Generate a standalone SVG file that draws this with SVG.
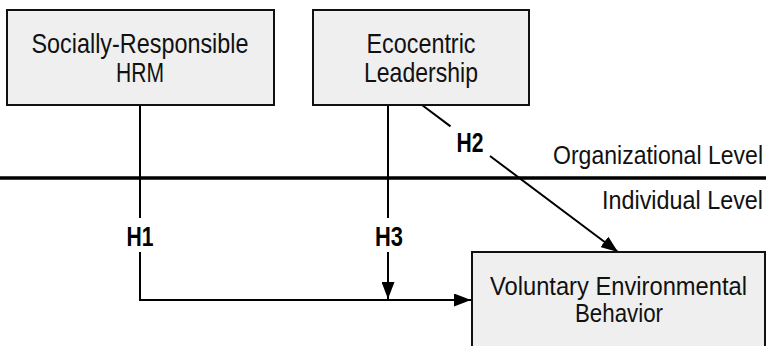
<svg xmlns="http://www.w3.org/2000/svg" width="766" height="346" viewBox="0 0 766 346">
<style>
.box{fill:#efefef;stroke:#111;stroke-width:2}
.t{font-family:"Liberation Sans",Arial,sans-serif;font-size:28px;fill:#111;text-anchor:middle}
.lv{text-anchor:end;font-size:25px}
.vb{font-size:26px}
.h{font-weight:bold;fill:#000;font-size:27px}
.c{stroke:#000;stroke-width:2;fill:none}
</style>
<defs>
<marker id="ah" viewBox="0 0 17 13" refX="17" refY="6.5" markerWidth="17" markerHeight="13" markerUnits="userSpaceOnUse" orient="auto">
<path d="M0,0 L17,6.5 L0,13 z" fill="#000"/>
</marker>
</defs>
<rect width="766" height="346" fill="#fff"/>
<g id="levels">
<line x1="0" y1="178" x2="766" y2="178" stroke="#000" stroke-width="3.5"/>
<text class="t lv" x="763" y="164" textLength="210" lengthAdjust="spacingAndGlyphs">Organizational Level</text>
<text class="t lv" x="763" y="209" textLength="161" lengthAdjust="spacingAndGlyphs">Individual Level</text>
</g>
<g id="connectors">
<line class="c" x1="140" y1="105" x2="140" y2="218"/>
<path class="c" d="M140,252 V300 H471" marker-end="url(#ah)"/>
<line class="c" x1="388" y1="105" x2="388" y2="218"/>
<line class="c" x1="388" y1="252" x2="388" y2="299" marker-end="url(#ah)"/>
<line class="c" x1="422" y1="105" x2="450.5" y2="126.4"/>
<line class="c" x1="490" y1="156" x2="618" y2="252" marker-end="url(#ah)"/>
<text class="t h" x="140" y="246" textLength="27" lengthAdjust="spacingAndGlyphs">H1</text>
<text class="t h" x="470" y="152" textLength="27" lengthAdjust="spacingAndGlyphs">H2</text>
<text class="t h" x="389" y="246" textLength="28" lengthAdjust="spacingAndGlyphs">H3</text>
</g>
<g id="srhrm">
<rect class="box" x="7" y="10" width="267" height="95"/>
<text class="t" x="140" y="53" textLength="217" lengthAdjust="spacingAndGlyphs">Socially-Responsible</text>
<text class="t" x="140" y="82" textLength="48" lengthAdjust="spacingAndGlyphs">HRM</text>
</g>
<g id="eco">
<rect class="box" x="313" y="10" width="216" height="95"/>
<text class="t" x="421" y="53" textLength="109" lengthAdjust="spacingAndGlyphs">Ecocentric</text>
<text class="t" x="421" y="82" textLength="114" lengthAdjust="spacingAndGlyphs">Leadership</text>
</g>
<g id="veb">
<rect class="box" x="472" y="252" width="293" height="100"/>
<text class="t vb" x="618.5" y="295" textLength="257" lengthAdjust="spacingAndGlyphs">Voluntary Environmental</text>
<text class="t vb" x="619" y="322" textLength="88" lengthAdjust="spacingAndGlyphs">Behavior</text>
</g>
</svg>
